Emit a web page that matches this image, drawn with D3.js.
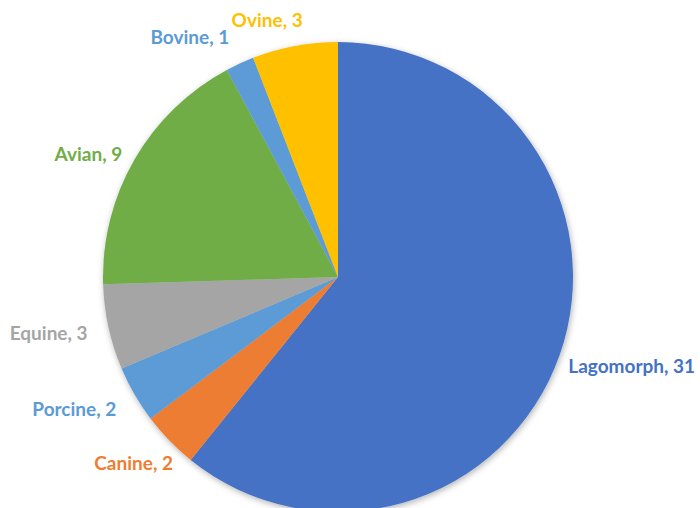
<!DOCTYPE html>
<html>
<head>
<meta charset="utf-8">
<script src="https://cdn.jsdelivr.net/npm/d3@7"></script>
<style>
  html, body { margin: 0; padding: 0; background: #fff; }
  svg { display: block; }
  .lbl { font-family: Lato, "Open Sans", sans-serif; font-weight: 700; font-size: 19px; }
</style>
</head>
<body>
<svg id="chart" width="700" height="508"></svg>
<script>
// Case counts by animal group
const categories = ["Lagomorph", "Canine", "Porcine", "Equine", "Avian", "Bovine", "Ovine"];
const counts = [31, 2, 2, 3, 9, 1, 3];
const palette = ["#4472C4", "#ED7D31", "#5B9BD5", "#A5A5A5", "#70AD47", "#5B9BD5", "#FFC000"];

// Layout
const W = 700, H = 508;
const cx = 338, cy = 277, radius = 235;
const labelGap = 6;
// Per-label nudges (px) applied after the radial anchor, for best-fit placement
const labelNudge = {
  Lagomorph: [3, 9],
  Canine: [8, 19],
  Porcine: [-13, 12],
  Equine: [-15, 5],
  Avian: [-7, -2],
  Bovine: [-8, -21],
  Ovine: [9, -20]
};

const rows = categories.map((c, i) => ({ name: c, value: counts[i], color: palette[i] }));

const svg = d3.select("#chart");

const defs = svg.append("defs");
const f = defs.append("filter").attr("id", "shadow")
  .attr("x", "-10%").attr("y", "-10%").attr("width", "120%").attr("height", "120%");
f.append("feDropShadow")
  .attr("dx", 1).attr("dy", 2).attr("stdDeviation", 3)
  .attr("flood-color", "#000").attr("flood-opacity", 0.3);

const pie = d3.pie().value(d => d.value).sort(null).startAngle(0).endAngle(2 * Math.PI);
const arc = d3.arc().innerRadius(0).outerRadius(radius);
const arcs = pie(rows);

const g = svg.append("g").attr("transform", `translate(${cx},${cy})`);

g.append("g").attr("filter", "url(#shadow)")
  .selectAll("path")
  .data(arcs)
  .join("path")
  .attr("d", arc)
  .attr("fill", d => d.data.color);

// Labels: anchored just outside the rim at each slice's mid angle
g.append("g").selectAll("text")
  .data(arcs)
  .join("text")
  .attr("class", "lbl")
  .attr("fill", d => d.data.color)
  .text(d => `${d.data.name}, ${d.data.value}`)
  .each(function (d) {
    const a = (d.startAngle + d.endAngle) / 2;
    const sx = Math.sin(a), sy = -Math.cos(a);
    const r = radius + labelGap;
    const [nx, ny] = labelNudge[d.data.name] || [0, 0];
    d3.select(this)
      .attr("text-anchor", sx >= 0 ? "start" : "end")
      .attr("x", sx * r + nx)
      .attr("y", sy * r + ny)
      .attr("dy", "0.35em");
  });
</script>
</body>
</html>
